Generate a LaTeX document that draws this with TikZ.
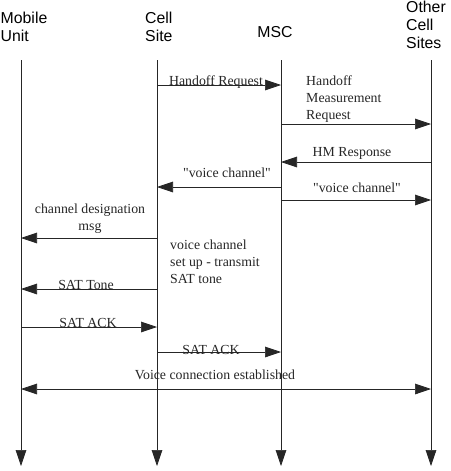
\documentclass[tikz,border=0pt]{standalone}
\usepackage{fontspec}
\newfontfamily\lblfont{Liberation Serif}
\newfontfamily\headfont{Liberation Sans}
\usetikzlibrary{arrows.meta}
\begin{document}
\begin{tikzpicture}[x=0.03cm, y=-0.03cm, >={Triangle[length=4.8mm,width=3.2mm]},
  head/.style={font=\headfont\fontsize{13.5}{15.5}\selectfont, align=left, inner sep=0pt},
  lbl/.style={font=\lblfont\fontsize{11.8}{14.5}\selectfont, text=black!85, inner sep=0pt},
  line/.style={line width=0.6pt, draw=black!85}]
\useasboundingbox (0,0) rectangle (451,471);

\node[head, anchor=west] (mu) at (0.5,27) {Mobile\\Unit};
\node[head, anchor=west] (cs) at (145,27) {Cell\\Site};
\node[head] (msc) at (275,32) {MSC};
\node[head, anchor=west] (oc) at (406,25) {Other\\Cell\\Sites};

% lifelines
\coordinate (muT) at (21,60);   \coordinate (muB) at (21,466);
\coordinate (csT) at (157,60);  \coordinate (csB) at (157,466);
\coordinate (mscT) at (281,60); \coordinate (mscB) at (281,466);
\coordinate (ocT) at (431,60);  \coordinate (ocB) at (431,466);
\draw[line, ->] (muT) -- (muB);
\draw[line, ->] (csT) -- (csB);
\draw[line, ->] (mscT) -- (mscB);
\draw[line, ->] (ocT) -- (ocB);

% message rows
\coordinate (m1) at (0,85);
\coordinate (m2) at (0,124);
\coordinate (m3) at (0,162);
\coordinate (m4) at (0,187);
\coordinate (m5) at (0,200);
\coordinate (m6) at (0,238);
\coordinate (m7) at (0,289);
\coordinate (m8) at (0,327);
\coordinate (m9) at (0,352);
\coordinate (m10) at (0,389);

\draw[line, ->] (csT |- m1) -- (mscT |- m1);
\draw[line, ->] (mscT |- m2) -- (ocT |- m2);
\draw[line, ->] (ocT |- m3) -- (mscT |- m3);
\draw[line, ->] (mscT |- m4) -- (csT |- m4);
\draw[line, ->] (mscT |- m5) -- (ocT |- m5);
\draw[line, ->] (csT |- m6) -- (muT |- m6);
\draw[line, ->] (csT |- m7) -- (muT |- m7);
\draw[line, ->] (muT |- m8) -- (csT |- m8);
\draw[line, ->] (csT |- m9) -- (mscT |- m9);
\draw[line, <->] (muT |- m10) -- (ocT |- m10);

\node[lbl] (hr) at (216,82) {Handoff Request};
\node[lbl, anchor=west, align=left] (hmr) at (306,99) {Handoff\\Measurement\\Request};
\node[lbl] (hmresp) at (352,153) {HM Response};
\node[lbl] (vc1) at (227,173) {"voice channel"};
\node[lbl] (vc2) at (357,188) {"voice channel"};
\node[lbl, align=center] (cdm) at (90,219) {channel designation\\msg};
\node[lbl, anchor=west, align=left] (setup) at (170,262) {voice channel\\set up - transmit\\SAT tone};
\node[lbl] (sat) at (86,285) {SAT Tone};
\node[lbl] (ack1) at (88,323) {SAT ACK};
\node[lbl] (ack2) at (211,350) {SAT ACK};
\node[lbl] (vce) at (215,375) {Voice connection established};
\end{tikzpicture}
\end{document}
